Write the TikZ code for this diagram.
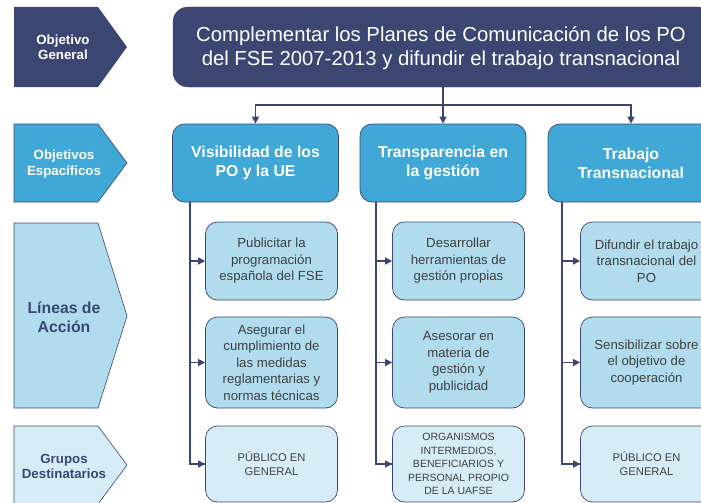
\documentclass[tikz,border=0pt]{standalone}
\usepackage{fontspec}
\setmainfont{Liberation Sans}
\usetikzlibrary{arrows.meta}
\definecolor{navy}{HTML}{3B4672}
\definecolor{midblue}{HTML}{3FA8D6}
\definecolor{lightblue}{HTML}{B0DCEE}
\definecolor{paleblue}{HTML}{D6EDF7}
\definecolor{txtgray}{HTML}{404040}
\tikzset{
  chev/.style={draw=navy, line width=0.6pt},
  toptitle/.style={fill=navy, draw=navy, rounded corners=15pt, inner sep=0pt},
  hdrbox/.style={fill=midblue, draw=navy, line width=0.7pt, rounded corners=12pt, minimum width=166pt, minimum height=78pt, inner sep=0pt, align=center, text=white, font=\fontsize{15.8}{19}\selectfont\bfseries},
  actbox/.style={fill=lightblue, draw=navy, line width=0.7pt, rounded corners=12pt, minimum width=132pt, inner sep=0pt, align=center, text=txtgray, font=\fontsize{13.2}{16.5}\selectfont},
  grpbox/.style={fill=paleblue, draw=navy, line width=0.7pt, rounded corners=12pt, minimum width=132pt, minimum height=76pt, inner sep=0pt, align=center, text=txtgray},
  conn/.style={draw=navy, line width=1.3pt},
  arr/.style={conn, -{Triangle[length=7pt,width=7pt]}},
  lbl/.style={align=center, font=\bfseries}
}
\begin{document}
\begin{tikzpicture}[x=1pt,y=-1pt]
\useasboundingbox (0,0) rectangle (701,503);
\clip (0,0) rectangle (701,503);
% left chevrons
\fill[navy] (14,7) -- (98,7) -- (127,47) -- (98,87) -- (14,87) -- cycle;
\draw[chev, fill=midblue] (14,124) -- (98,124) -- (127,163) -- (98,202) -- (14,202) -- cycle;
\draw[chev, fill=lightblue] (14,223) -- (98,223) -- (127,316) -- (98,408) -- (14,408) -- cycle;
\draw[chev, fill=paleblue] (14,426) -- (98,426) -- (127,465) -- (98,504) -- (14,504) -- cycle;
\node[lbl, text=white, font=\fontsize{13.3}{14.5}\selectfont\bfseries] (l1) at (63,47) {Objetivo\\General};
\node[lbl, text=white, font=\fontsize{13.3}{16}\selectfont\bfseries] (l2) at (64,164) {Objetivos\\Espacíficos};
\node[lbl, text=navy, font=\fontsize{15.8}{19}\selectfont\bfseries] (l3) at (64,317) {Líneas de\\Acción};
\node[lbl, text=navy, font=\fontsize{13.3}{15}\selectfont\bfseries] (l4) at (64,466) {Grupos\\Destinatarios};
% top box
\node[toptitle, minimum width=540pt, minimum height=80pt] (top) at (443,47) {};
\node[align=center, text=white, font=\fontsize{20.3}{24.5}\selectfont] (title) at (441,48) {Complementar los Planes de Comunicación de los PO\\del FSE 2007-2013 y difundir el trabajo transnacional};
% headers
\node[hdrbox] (h1) at (255.5,163) {Visibilidad de los\\PO y la UE};
\node[hdrbox] (h2) at (443,163) {Transparencia en\\la gestión};
\node[hdrbox] (h3) at (631,163) {Trabajo\\Transnacional};
% action boxes
\node[actbox, minimum height=78pt] (a1) at (271.5,261) {Publicitar la\\programación\\española del FSE};
\node[actbox, minimum height=91pt] (b1) at (271.5,362.5) {Asegurar el\\cumplimiento de\\las medidas\\reglamentarias y\\normas técnicas};
\node[grpbox, font=\fontsize{11.2}{14}\selectfont] (c1) at (271.5,464) {PÚBLICO EN\\GENERAL};
\node[actbox, minimum height=78pt] (a2) at (458.5,261) {Desarrollar\\herramientas de\\gestión propias};
\node[actbox, minimum height=91pt] (b2) at (458.5,362.5) {Asesorar en\\materia de\\gestión y\\publicidad};
\node[grpbox, font=\fontsize{10.5}{13.5}\selectfont] (c2) at (458.5,464) {ORGANISMOS\\INTERMEDIOS,\\BENEFICIARIOS Y\\PERSONAL PROPIO\\DE LA UAFSE};
\node[actbox, minimum height=78pt] (a3) at (646.5,261) {Difundir el trabajo\\transnacional del\\PO};
\node[actbox, minimum height=91pt] (b3) at (646.5,362.5) {Sensibilizar sobre\\el objetivo de\\cooperación};
\node[grpbox, font=\fontsize{11.2}{14}\selectfont] (c3) at (646.5,464) {PÚBLICO EN\\GENERAL};
% bus
\coordinate (bus) at (443,105);
\draw[conn] (top.south -| bus) -- (bus);
\draw[arr] (bus) -| (h1.north);
\draw[arr] (bus) -- (h2.north);
\draw[arr] (bus) -| (h3.north);
% column spines
\coordinate (s1) at (190,0);
\coordinate (s2) at (376,0);
\coordinate (s3) at (562,0);
\draw[conn] (h1.south -| s1) |- (c1.west);
\draw[arr] (c1.west -| s1) -- (c1.west);
\draw[arr] (a1.west -| s1) -- (a1.west);
\draw[arr] (b1.west -| s1) -- (b1.west);
\draw[conn] (h2.south -| s2) |- (c2.west);
\draw[arr] (c2.west -| s2) -- (c2.west);
\draw[arr] (a2.west -| s2) -- (a2.west);
\draw[arr] (b2.west -| s2) -- (b2.west);
\draw[conn] (h3.south -| s3) |- (c3.west);
\draw[arr] (c3.west -| s3) -- (c3.west);
\draw[arr] (a3.west -| s3) -- (a3.west);
\draw[arr] (b3.west -| s3) -- (b3.west);
\end{tikzpicture}
\end{document}
